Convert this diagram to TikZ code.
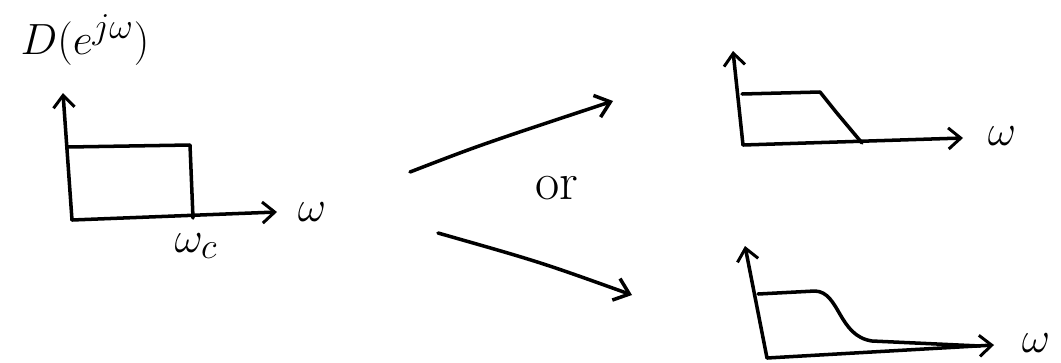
\documentclass[tikz,border=0pt]{standalone}
\usepackage{tikz}
\usetikzlibrary{arrows.meta}
\tikzset{
  pen/.style={line width=2pt, line cap=round, line join=round},
  axis/.style={pen, -{Straight Barb[length=7pt, width=12pt, line width=1.7pt]}},
  big/.style={font=\fontsize{30}{34}\selectfont},
}
\begin{document}
\begin{tikzpicture}[x=0.02cm, y=-0.02cm, >={Straight Barb[length=8pt, width=13pt]}, every node/.style={inner sep=0pt}]
  \useasboundingbox (0,0) rectangle (1061,362);
  % ideal response
  \coordinate (o1) at (72,220);
  \coordinate (y1) at (63,93);
  \coordinate (x1) at (277,212);
  \draw[axis] (o1) -- (y1);
  \draw[axis] (o1) -- (x1);
  \draw[pen] (68,147) -- (190,145) -- (193,218);
  \node[big] (dlabel) at (85,40) {$D(e^{j\omega})$};
  \node[big] (w1) at (312,212) {$\omega$};
  \node[big] (wc) at (196,246) {$\omega_c$};
  % two ways
  \coordinate (up0) at (410,172);
  \coordinate (up1) at (613,101);
  \coordinate (dn0) at (438,233);
  \coordinate (dn1) at (632,295);
  \draw[pen, ->] (up0) .. controls (480,145) .. (up1);
  \draw[pen, ->] (dn0) .. controls (540,262) .. (dn1);
  \node[big] (or) at (557,188) {or};
  % linear rolloff
  \coordinate (o2) at (743,145);
  \coordinate (y2) at (733,51);
  \coordinate (x2) at (963,138);
  \draw[axis] (o2) -- (y2);
  \draw[axis] (o2) -- (x2);
  \draw[pen] (742,94) -- (820,92) -- (836,112) -- (862,143);
  \node[big] (w2) at (1002,136) {$\omega$};
  % smooth rolloff
  \coordinate (o3) at (767,358);
  \coordinate (y3) at (745,246);
  \coordinate (x3) at (994,345);
  \draw[axis] (o3) -- (y3);
  \draw[axis] (o3) -- (x3);
  \draw[pen] (758,294) -- (815,291) .. controls (840,292) and (838,336) .. (872,341) -- (980,346);
  \node[big] (w3) at (1036,343) {$\omega$};
\end{tikzpicture}
\end{document}
